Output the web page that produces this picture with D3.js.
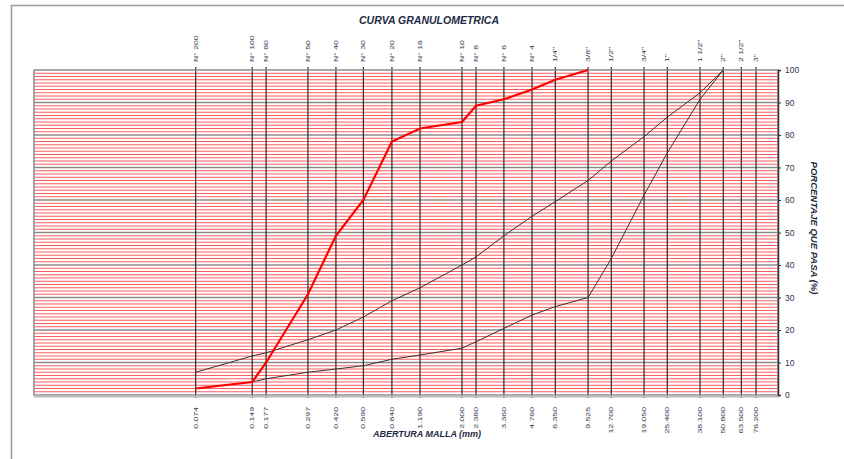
<!DOCTYPE html>
<html>
<head>
<meta charset="utf-8">
<script src="https://cdn.jsdelivr.net/npm/d3@7"></script>
<style>
body { margin: 0; background: #fff; }
</style>
</head>
<body>
<script>
// Tamices (nombre, abertura en mm)
const tamices = ["N° 200", "N° 100", "N° 80", "N° 50", "N° 40", "N° 30", "N° 20", "N° 16", "N° 10", "N° 8", "N° 6", "N° 4",
  "1/4\"", "3/8\"", "1/2\"", "3/4\"", "1\"", "1 1/2\"", "2\"", "2 1/2\"", "3\""];
const aberturas = [0.074, 0.149, 0.177, 0.297, 0.420, 0.590, 0.840, 1.190, 2.000, 2.380, 3.360, 4.760,
  6.350, 9.525, 12.700, 19.050, 25.400, 38.100, 50.800, 63.500, 76.200];

// Porcentaje que pasa
const muestra   = [2, 4, 10, 31, 49, 60, 78, 82, 84, 89, 91, 94, 97, 100];           // hasta 3/8"
const limiteSup = [7, 12, 13, 17, 20, 24, 29, 33, 40, 42.5, 49, 55, 59.5, 66, 72, 79.5, 85.5, 93, 100]; // hasta 2"
const limiteInf = [2, 4, 5, 7, 8, 9, 11, 12.3, 14.4, 16.4, 20.5, 24.6, 27.2, 30, 42, 61.5, 74.5, 91, 100];

const yTicks = [0, 10, 20, 30, 40, 50, 60, 70, 80, 90, 100];

const width = 844;
const height = 459;
const margin = { left: 34, right: 66, top: 70, bottom: 64 };
const fuente = "Liberation Sans, Arial, sans-serif";

const svg = d3.select("body")
  .append("svg")
  .attr("width", width)
  .attr("height", height);

// marco exterior
svg.append("rect")
  .attr("x", 11.5).attr("y", 5.5)
  .attr("width", width + 20).attr("height", height + 20)
  .attr("fill", "none")
  .attr("stroke", "#9a9a9a")
  .attr("stroke-width", 1.5);

const xScale = d3.scaleLog()
  .domain([0.01, 100])
  .range([margin.left, width - margin.right]);

const yScale = d3.scaleLinear()
  .domain([0, 100])
  .range([height - margin.bottom, margin.top]);

const x0 = xScale.range()[0], x1 = xScale.range()[1];
const y0 = yScale.range()[0], y1 = yScale.range()[1];

// rejilla menor cada 1 %
svg.append("g")
  .selectAll("line")
  .data(d3.range(1, 100).filter(d => d % 10 !== 0))
  .enter()
  .append("line")
  .attr("x1", x0).attr("x2", x1)
  .attr("y1", d => yScale(d)).attr("y2", d => yScale(d))
  .attr("stroke", "#ff1a1a")
  .attr("stroke-width", 1.1)
  .style("opacity", 0.7);

// rejilla mayor cada 10 %
svg.append("g")
  .selectAll("line")
  .data(yTicks.slice(1, -1))
  .enter()
  .append("line")
  .attr("x1", x0).attr("x2", x1)
  .attr("y1", d => yScale(d)).attr("y2", d => yScale(d))
  .attr("stroke", "#8a8a8a")
  .attr("stroke-width", 1.4);

// líneas verticales de tamices
svg.append("g")
  .selectAll("line")
  .data(aberturas)
  .enter()
  .append("line")
  .attr("x1", d => xScale(d)).attr("x2", d => xScale(d))
  .attr("y1", y1 - 3).attr("y2", y0 + 3)
  .attr("stroke", "#2a2a2a")
  .attr("stroke-width", 1.2);

// borde del área de trazado
svg.append("rect")
  .attr("x", x0).attr("y", y1)
  .attr("width", x1 - x0).attr("height", y0 - y1)
  .attr("fill", "none")
  .attr("stroke", "#8c8c8c")
  .attr("stroke-width", 1.5);
svg.append("line")
  .attr("x1", x0).attr("x2", x1 + 2)
  .attr("y1", y0 + 1.5).attr("y2", y0 + 1.5)
  .attr("stroke", "#bdbdbd").attr("stroke-width", 2);

// eje Y a la derecha
const ejeY = d3.axisRight(yScale)
  .tickValues(yTicks)
  .tickSize(3)
  .tickFormat(d3.format("d"));

const gy = svg.append("g")
  .attr("transform", "translate(" + x1 + ",0)")
  .call(ejeY);
gy.select(".domain").attr("stroke", "#333").attr("stroke-width", 1.5);
gy.selectAll(".tick line").attr("stroke", "#333");
gy.selectAll("text")
  .attr("x", 7)
  .style("font-family", fuente)
  .style("font-size", "8.5px")
  .attr("fill", "#2c3550");

// etiquetas superiores (nombre del tamiz)
svg.append("g")
  .selectAll("text")
  .data(tamices)
  .enter()
  .append("text")
  .attr("transform", (d, i) => "translate(" + (xScale(aberturas[i]) + 2) + "," + (y1 - 8) + ") rotate(-90) scale(1.45,1)")
  .style("font-family", fuente)
  .style("font-size", "6px")
  .attr("fill", "#2c3550")
  .text(d => d);

// etiquetas inferiores (abertura)
svg.append("g")
  .selectAll("text")
  .data(aberturas)
  .enter()
  .append("text")
  .attr("transform", d => "translate(" + (xScale(d) + 2) + "," + (y0 + 12) + ") rotate(-90) scale(1.45,1)")
  .style("font-family", fuente)
  .style("font-size", "6px")
  .style("text-anchor", "end")
  .attr("fill", "#2c3550")
  .text(d => d3.format(".3f")(d));

// curvas
const linea = d3.line()
  .x(d => xScale(d[0]))
  .y(d => yScale(d[1]));

function serie(valores) {
  return valores.map((v, i) => [aberturas[i], v]);
}

svg.append("path")
  .datum(serie(limiteSup))
  .attr("d", linea)
  .attr("fill", "none")
  .attr("stroke", "#333")
  .attr("stroke-width", 1);

svg.append("path")
  .datum(serie(limiteInf))
  .attr("d", linea)
  .attr("fill", "none")
  .attr("stroke", "#333")
  .attr("stroke-width", 1);

svg.append("path")
  .datum(serie(muestra))
  .attr("d", linea)
  .attr("fill", "none")
  .attr("stroke", "#ff0000")
  .attr("stroke-width", 2.2);

// títulos
svg.append("text")
  .attr("x", 429).attr("y", 24)
  .style("text-anchor", "middle")
  .style("font-family", fuente)
  .style("font-size", "10.5px")
  .style("font-weight", "bold")
  .style("font-style", "italic")
  .attr("fill", "#1f2a44")
  .text("CURVA GRANULOMETRICA");

svg.append("text")
  .attr("x", 427).attr("y", 437)
  .style("text-anchor", "middle")
  .style("font-family", fuente)
  .style("font-size", "9px")
  .style("font-weight", "bold")
  .style("font-style", "italic")
  .attr("fill", "#1f2a44")
  .text("ABERTURA MALLA (mm)");

svg.append("text")
  .attr("transform", "translate(811,228) rotate(90)")
  .style("text-anchor", "middle")
  .style("font-family", fuente)
  .style("font-size", "9.5px")
  .style("font-weight", "bold")
  .style("font-style", "italic")
  .attr("fill", "#1f2a44")
  .text("PORCENTAJE QUE PASA (%)");
</script>
</body>
</html>
